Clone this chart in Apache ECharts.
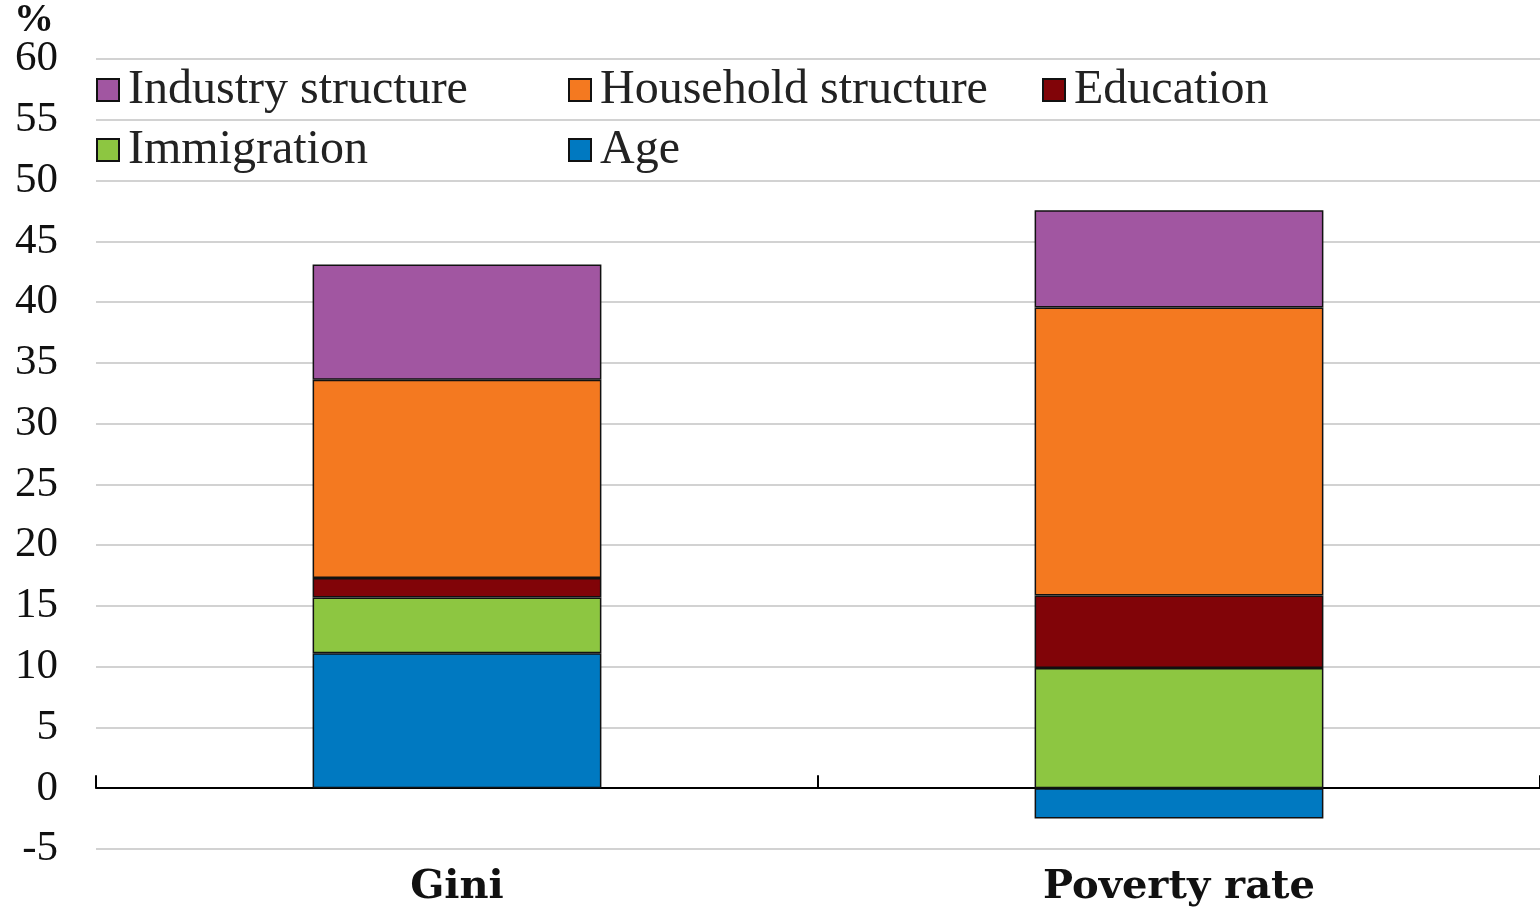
<!DOCTYPE html>
<html>
<head>
<meta charset="utf-8">
<script src="https://cdn.jsdelivr.net/npm/echarts@6/dist/echarts.min.js"></script>
<style>
  html, body { margin: 0; padding: 0; background: #fff; }
  #chart { width: 1540px; height: 911px; }
</style>
</head>
<body>
<div id="chart"></div>
<script>
// Contributions by factor, stacked bottom to top
const categories = ['Gini', 'Poverty rate'];
const age = [11.1, -2.5];
const immigration = [4.6, 9.9];
const education = [1.6, 5.95];
const household = [16.3, 23.7];
const industry = [9.5, 8.0];

const yTicks = { min: -5, max: 60, interval: 5 };

const FONT = '"Liberation Serif", "DejaVu Serif", serif';
const BOLD_FONT = '"DejaVu Serif", serif';
const colors = {
  'Age': '#0079C1',
  'Immigration': '#8DC641',
  'Education': '#810408',
  'Household structure': '#F47920',
  'Industry structure': '#A156A1'
};

function barSeries(name, data) {
  return {
    name: name,
    type: 'bar',
    stack: 'total',
    barWidth: '40%',
    xAxisIndex: 0,
    data: data,
    itemStyle: { color: colors[name], borderColor: '#111', borderWidth: 1.5 },
    emphasis: { disabled: true }
  };
}

function legend(left, names) {
  return {
    left: left,
    top: 66,
    padding: 0,
    orient: 'vertical',
    itemGap: 12,
    itemWidth: 22,
    itemHeight: 22,
    icon: 'rect',
    data: names,
    selectedMode: false,
    textStyle: {
      fontFamily: FONT, fontSize: 48, lineHeight: 48, color: '#222',
      padding: [0, 0, 0, 4]
    }
  };
}

const chart = echarts.init(document.getElementById('chart'), null, { renderer: 'canvas' });
chart.setOption({
  animation: false,
  grid: { left: 96, right: 0, top: 59, bottom: 62, containLabel: false, outerBoundsMode: 'none' },
  legend: [
    legend(96, ['Industry structure', 'Immigration']),
    legend(568, ['Household structure', 'Age']),
    legend(1042, ['Education'])
  ],
  graphic: [{
    type: 'text',
    left: 14,
    top: 1,
    style: { text: '%', font: 'bold 40px ' + FONT, fill: '#111' }
  }],
  xAxis: [
    {
      // zero line with category boundary ticks
      type: 'category',
      data: categories,
      axisLine: { onZero: true, lineStyle: { color: '#000', width: 2 } },
      axisTick: { show: true, inside: true, length: 13, lineStyle: { color: '#000', width: 2 } },
      axisLabel: { show: false }
    },
    {
      // category names along the bottom edge
      type: 'category',
      data: categories,
      position: 'bottom',
      axisLine: { show: false, onZero: false },
      axisTick: { show: false },
      axisLabel: {
        margin: 19,
        fontFamily: BOLD_FONT,
        fontWeight: 'bold',
        fontSize: 40,
        color: '#111'
      }
    }
  ],
  yAxis: {
    type: 'value',
    min: yTicks.min,
    max: yTicks.max,
    interval: yTicks.interval,
    axisLine: { show: false },
    axisTick: { show: false },
    splitLine: { lineStyle: { color: '#d2d2d2', width: 2 } },
    axisLabel: { margin: 38, fontFamily: FONT, fontSize: 43, color: '#111' }
  },
  series: [
    barSeries('Age', age),
    barSeries('Immigration', immigration),
    barSeries('Education', education),
    barSeries('Household structure', household),
    barSeries('Industry structure', industry)
  ]
});
</script>
</body>
</html>
